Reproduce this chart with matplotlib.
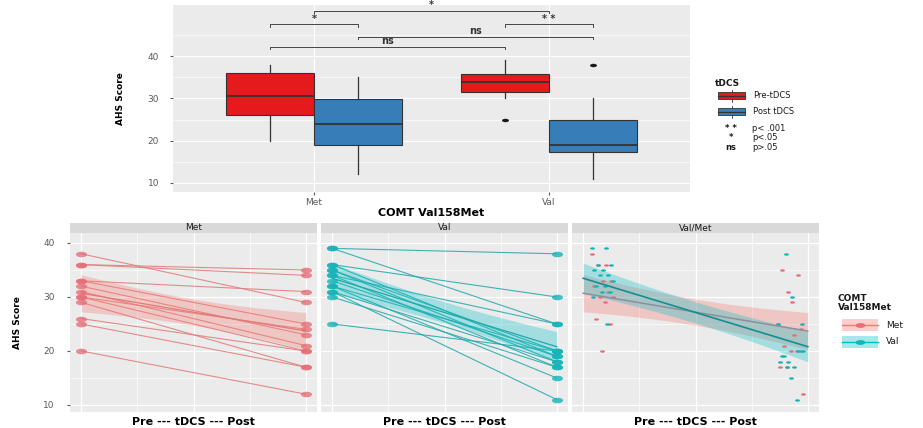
import numpy as np
import matplotlib
matplotlib.use("Agg")
import matplotlib.pyplot as plt
from matplotlib.patches import Rectangle
from matplotlib.path import Path
from matplotlib.transforms import Affine2D

W, H = 923, 428

# ---- top panel: AHS score by COMT genotype, before/after tDCS ----
genotypes = ["Met", "Val"]
sessions = ["Pre-tDCS", "Post tDCS"]

pre_whislo = [20, 30]
pre_q1 = [26, 31.5]
pre_med = [30.5, 33.8]
pre_q3 = [36, 35.7]
pre_whishi = [38, 39]
pre_fliers = [[], [25]]

post_whislo = [12, 11]
post_q1 = [19, 17.3]
post_med = [24, 19]
post_q3 = [29.8, 25]
post_whishi = [35, 30]
post_fliers = [[], [38]]

# pairwise comparisons drawn as brackets
sig_pairs = [("Met", "Val"), ("Met Pre", "Met Post"), ("Val Pre", "Val Post"),
             ("Met Post", "Val Post"), ("Met Pre", "Val Pre")]
sig_heights = [50.6, 47.5, 47.5, 44.5, 42.1]
sig_labels = ["*", "*", "* *", "ns", "ns"]

sig_key_marks = ["* *", "*", "ns"]
sig_key_text = ["p< .001", "p<.05", "p>.05"]

# ---- bottom panels: individual scores, pre vs post ----
met_pre = [38, 36, 36, 33, 33, 32, 31, 30, 30, 29, 26, 25, 20]
met_post = [29, 35, 34, 31, 25, 23, 21, 24, 20, 17, 20, 17, 12]
val_pre = [39, 39, 36, 36, 35, 35, 34, 34, 33, 32, 32, 31, 31, 30, 25]
val_post = [38, 25, 30, 19, 20, 18, 25, 17, 19, 20, 15, 18, 11, 17, 20]

facet_titles = ["Met", "Val", "Val/Met"]
yticks = [10, 20, 30, 40]

RED, BLUE = "#E41A1C", "#377EB8"
MET_COL, VAL_COL = "#F8766D", "#00BFC4"
PANEL_BG = "#EBEBEB"
STRIP_BG = "#D9D9D9"
DARK = "#333333"
TICK_COL = "#5A5A5A"

# wide ellipse marker for points
ELLIPSE = Path.unit_circle().transformed(Affine2D().scale(2.0, 1.0))

fig = plt.figure(figsize=(W / 100, H / 100), dpi=100)


def px_axes(x0, y0, x1, y1):
    return fig.add_axes([x0 / W, 1 - y1 / H, (x1 - x0) / W, (y1 - y0) / H])


def style_panel(ax):
    ax.set_facecolor(PANEL_BG)
    for s in ax.spines.values():
        s.set_visible(False)
    ax.grid(True, which="major", color="white", lw=0.9)
    ax.grid(True, which="minor", color="white", lw=0.45)
    ax.set_axisbelow(True)
    ax.tick_params(which="both", length=2, color=TICK_COL, labelcolor=TICK_COL, labelsize=6.5)
    ax.tick_params(which="minor", length=0)


def lm_band(x, y, xs, t=2.05):
    x = np.asarray(x, float)
    y = np.asarray(y, float)
    b, a = np.polyfit(x, y, 1)
    res = y - (a + b * x)
    s = np.sqrt(np.sum(res ** 2) / (len(x) - 2))
    sxx = np.sum((x - x.mean()) ** 2)
    se = s * np.sqrt(1 / len(x) + (xs - x.mean()) ** 2 / sxx)
    fit = a + b * xs
    return fit, fit - t * se, fit + t * se


# ---------------- top boxplot ----------------
ax = px_axes(173, 5, 690, 192)
style_panel(ax)
dodge = 0.1875
pos = {}
for i, g in enumerate(genotypes):
    pos[g] = i + 1
    pos[g + " Pre"] = i + 1 - dodge
    pos[g + " Post"] = i + 1 + dodge

groups = [
    (" Pre", RED, pre_whislo, pre_q1, pre_med, pre_q3, pre_whishi, pre_fliers),
    (" Post", BLUE, post_whislo, post_q1, post_med, post_q3, post_whishi, post_fliers),
]
for suffix, col, lo, q1, med, q3, hi, fl in groups:
    for i, g in enumerate(genotypes):
        st = [dict(whislo=lo[i], q1=q1[i], med=med[i], q3=q3[i], whishi=hi[i], fliers=fl[i])]
        ax.bxp(st, positions=[pos[g + suffix]], widths=2 * dodge, patch_artist=True,
               showcaps=False, manage_ticks=False,
               boxprops=dict(facecolor=col, edgecolor=DARK, lw=0.8),
               medianprops=dict(color=DARK, lw=1.3),
               whiskerprops=dict(color=DARK, lw=0.9),
               flierprops=dict(marker=ELLIPSE, markersize=5, markerfacecolor="#1A1A1A",
                               markeredgecolor="none"))

for (a, b), yv, lab in zip(sig_pairs, sig_heights, sig_labels):
    x1, x2 = pos[a], pos[b]
    ax.plot([x1, x1, x2, x2], [yv - 0.5, yv, yv, yv - 0.5], color="#444444", lw=0.7)
    ax.text((x1 + x2) / 2, yv + 0.2, lab, ha="center", va="bottom", fontsize=7,
            fontweight="bold", color="#333333")

ax.set_xlim(0.4, 2.6)
ax.set_ylim(7.85, 52.1)
ax.set_xticks([1, 2])
ax.set_xticklabels(genotypes)
ax.set_yticks(yticks)
ax.set_yticks([15, 25, 35, 45], minor=True)
ax.tick_params(axis="y", pad=8)
ax.tick_params(axis="x", pad=2)
ax.set_xlabel("COMT Val158Met", fontsize=8, fontweight="bold", labelpad=1)
ax.set_ylabel("AHS Score", fontsize=6.5, fontweight="bold")
ax.yaxis.set_label_coords(-0.093, 0.5)

# ---------------- bottom facets ----------------
panel_x = [(70, 317), (321, 568), (572, 819)]
xs = np.linspace(1, 2, 60)
series = [(met_pre, met_post, MET_COL, "#E07A78", "#E56F78"),
          (val_pre, val_post, VAL_COL, "#1EA8AB", "#14B4B8")]

for k, (x0, x1) in enumerate(panel_x):
    axp = px_axes(x0, 233, x1, 412)
    style_panel(axp)
    strip = px_axes(x0, 223, x1, 233)
    strip.set_facecolor(STRIP_BG)
    strip.set_xticks([])
    strip.set_yticks([])
    for s in strip.spines.values():
        s.set_visible(False)
    strip.text(0.5, 0.5, facet_titles[k], ha="center", va="center", fontsize=6.5,
               color="#1A1A1A", transform=strip.transAxes)

    if k < 2:
        pre, post, col, lcol, pcol = series[k]
        xx = np.r_[np.ones(len(pre)), 2 * np.ones(len(post))]
        fit, lo, hi = lm_band(xx, np.r_[pre, post], xs)
        for a, b in zip(pre, post):
            axp.plot([1, 2], [a, b], color=lcol, lw=0.8, alpha=0.85, zorder=2)
        axp.fill_between(xs, lo, hi, color=col, alpha=0.3, lw=0, zorder=3)
        axp.plot(xs, fit, color=lcol, lw=0.9, zorder=3)
        axp.plot(np.ones(len(pre)), pre, ls="none", marker=ELLIPSE, ms=8,
                 mfc=pcol, mec="none", alpha=0.8, zorder=4)
        axp.plot(2 * np.ones(len(post)), post, ls="none", marker=ELLIPSE, ms=8,
                 mfc=pcol, mec="none", alpha=0.8, zorder=4)
    else:
        for pre, post, col, lcol, pcol in series:
            n = len(pre)
            frac = (np.arange(n) * 0.618) % 1
            axp.plot(1.04 + 0.10 * frac, pre, ls="none", marker=ELLIPSE, ms=3.5,
                     mfc=pcol, mec="none", zorder=4)
            axp.plot(1.98 - 0.12 * frac[::-1], post, ls="none", marker=ELLIPSE, ms=3.5,
                     mfc=pcol, mec="none", zorder=4)
        for pre, post, col, lcol, pcol in series:
            xx = np.r_[np.ones(len(pre)), 2 * np.ones(len(post))]
            fit, lo, hi = lm_band(xx, np.r_[pre, post], xs)
            axp.fill_between(xs, lo, hi, color=col, alpha=0.3, lw=0, zorder=3)
        axp.plot(xs, lm_band(np.r_[np.ones(13), 2 * np.ones(13)], np.r_[met_pre, met_post], xs)[0],
                 color="#8E8E9E", lw=1.1, zorder=5)
        axp.plot(xs, lm_band(np.r_[np.ones(15), 2 * np.ones(15)], np.r_[val_pre, val_post], xs)[0],
                 color="#148E93", lw=1.2, zorder=5)

    axp.set_xlim(0.95, 2.05)
    axp.set_ylim(8.7, 41.85)
    axp.set_xticks([1, 1.5, 2])
    axp.set_xticks([1.25, 1.75], minor=True)
    axp.set_yticks(yticks)
    axp.set_yticks([15, 25, 35], minor=True)
    axp.tick_params(axis="x", length=0, labelbottom=False)
    if k == 0:
        axp.tick_params(axis="y", pad=9)
        axp.set_ylabel("AHS Score", fontsize=6.5, fontweight="bold")
        axp.yaxis.set_label_coords(-0.194, 0.5)
    else:
        axp.tick_params(axis="y", length=0, labelleft=False)
    axp.set_xlabel("Pre --- tDCS --- Post", fontsize=8, fontweight="bold", labelpad=0.5)

# ---------------- legends ----------------
ov = fig.add_axes([0, 0, 1, 1])
ov.set_xlim(0, W)
ov.set_ylim(H, 0)
ov.axis("off")

ov.text(715, 83, "tDCS", fontsize=6.5, fontweight="bold", va="center", color="#1A1A1A")
for lab, col, yk in zip(sessions, [RED, BLUE], [95.5, 111.5]):
    ov.add_patch(Rectangle((718, yk - 3.5), 27, 7, fc=col, ec=DARK, lw=0.6))
    ov.plot([718, 745], [yk, yk], color=DARK, lw=0.9)
    ov.plot([731.5, 731.5], [yk - 6, yk - 3.5], color=DARK, lw=0.6)
    ov.plot([731.5, 731.5], [yk + 3.5, yk + 6], color=DARK, lw=0.6)
    ov.text(753, yk, lab, fontsize=6, va="center", color="#1A1A1A")
for mark, txt, yk in zip(sig_key_marks, sig_key_text, [128, 137.5, 147]):
    ov.text(731, yk, mark, fontsize=6, ha="center", va="center", color="#1A1A1A",
            fontweight="bold")
    ov.text(752, yk, txt, fontsize=6, va="center", color="#1A1A1A")

ov.text(838, 294, "COMT\nVal158Met", fontsize=6.5, fontweight="bold", va="top",
        linespacing=1.0, color="#1A1A1A")
for lab, col, pcol, yk in zip(["Met", "Val"], [MET_COL, VAL_COL],
                              ["#E56F78", "#14B4B8"], [325, 342]):
    ov.add_patch(Rectangle((842, yk - 6), 36, 12, fc=col, alpha=0.35, lw=0))
    ov.plot([842, 878], [yk, yk], color=col, lw=1.0)
    ov.plot([860], [yk], ls="none", marker=ELLIPSE, ms=7, mfc=pcol, mec="none")
    ov.text(886, yk, lab, fontsize=6.5, va="center", color="#1A1A1A")

fig.savefig("out.png", dpi=100)
